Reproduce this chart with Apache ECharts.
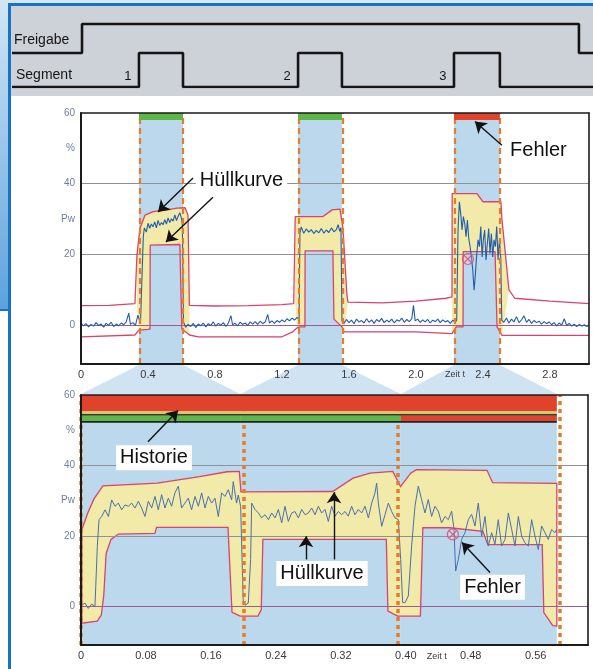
<!DOCTYPE html>
<html><head><meta charset="utf-8">
<script src="https://cdn.jsdelivr.net/npm/echarts@6/dist/echarts.min.js"></script>
<style>html,body{margin:0;padding:0;background:#fff}#c{width:593px;height:669px}</style>
</head><body><div id="c"></div>
<script>
// ---------------- DATA ----------------
// segment windows (overview chart time axis, 0..3.03)
const segTop = [[0.346, 0.609], [1.296, 1.558], [2.227, 2.501]];
// same segments on the zoomed chart time axis (0..0.62)
const segBottom = [[0, 0.196], [0.196, 0.394], [0.394, 0.586]];
const segStatus = ['ok', 'ok', 'fail'];
const segNames = ['1', '2', '3'];
const freigabeOn = 0.006, freigabeOff = 2.973;

const topTicks = [0, 0.4, 0.8, 1.2, 1.6, 2.0, 2.4, 2.8];
const bottomTicks = [0, 0.08, 0.16, 0.24, 0.32, 0.40, 0.48, 0.56];
const yTicks = [0, 20, 30, 40, 50, 60];
const yTickText = {60: '60', 50: '%', 40: '40', 30: 'Pw', 20: '20', 0: '0'};

// yellow envelope fill ranges in the overview chart
const topBandRanges = [[0.333, 0.65], [1.278, 1.595], [2.215, 2.556]];

const topUpper = [[0,5.5],[0.17,5.6],[0.322,6.1],[0.333,6.2],[0.334,19.8],[0.352,27.4],[0.382,31.1],[0.43,32.1],[0.513,32.6],[0.573,33.1],[0.621,33.2],[0.639,31.1],[0.647,5.6],[0.8,5.4],[1.0,5.5],[1.2,5.8],[1.27,6.1],[1.278,6.5],[1.279,30.7],[1.445,30.7],[1.499,32.6],[1.546,32.8],[1.564,27.4],[1.588,8.4],[1.594,6.5],[1.8,6.3],[2.0,6.8],[2.18,7.6],[2.215,8.0],[2.216,37.2],[2.364,37.2],[2.4,34.9],[2.507,34.9],[2.513,30.0],[2.53,22.0],[2.555,10.0],[2.59,7.6],[2.8,6.8],[3.033,6.1]];

const topLower = [[0,-3.3],[0.322,-2.8],[0.345,-1.4],[0.4,-1.2],[0.412,-1.1],[0.413,22.6],[0.59,22.8],[0.6,22.8],[0.602,-1.1],[0.648,-2.8],[0.7,-3.3],[1.2,-3.3],[1.26,-2.0],[1.29,-0.8],[1.307,-0.5],[1.337,-0.5],[1.338,21.0],[1.504,21.0],[1.51,1.7],[1.558,-0.5],[1.57,-1.9],[2.0,-1.9],[2.215,-2.4],[2.24,-0.5],[2.281,-0.5],[2.282,20.8],[2.472,20.8],[2.484,-0.5],[2.513,-2.9],[3.033,-2.9]];

const topSignal = [
[0.000,0.6],[0.015,-0.2],[0.030,0.4],[0.045,-0.5],[0.060,0.2],[0.075,-0.3],[0.090,0.7],[0.105,-0.1],[0.120,0.3],[0.135,-0.6],[0.150,0.5],[0.165,0.0],[0.180,0.8],[0.195,-0.4],[0.210,0.3],[0.225,-0.2],[0.240,0.6],[0.255,0.1],[0.270,0.9],[0.285,3.4],[0.295,0.2],[0.310,0.7],[0.325,-0.1],[0.340,2.8],[0.355,0.4],[0.366,0.8],
[0.372,25.0],[0.378,27.5],[0.39,26.3],[0.40,28.8],[0.41,27.4],[0.42,28.6],[0.43,27.8],[0.44,29.2],[0.45,27.5],[0.46,29.6],[0.47,28.2],[0.48,29.0],[0.49,28.4],[0.50,29.8],[0.51,28.6],[0.52,30.3],[0.53,29.0],[0.54,30.1],[0.55,29.4],[0.56,31.2],[0.57,29.6],[0.58,30.8],[0.59,31.8],[0.60,30.2],[0.605,28.5],[0.612,0.8],
[0.625,-0.6],[0.640,0.2],[0.655,-0.4],[0.670,0.5],[0.685,-0.7],[0.700,0.3],[0.715,-0.2],[0.730,0.6],[0.745,-0.5],[0.760,0.4],[0.775,-0.1],[0.790,0.9],[0.805,-0.3],[0.820,0.5],[0.835,0.0],[0.850,0.7],[0.865,-0.4],[0.880,0.6],[0.895,2.7],[0.905,0.1],[0.920,0.5],[0.935,-0.2],[0.950,0.8],[0.965,0.2],[0.980,0.6],[0.995,-0.1],[1.010,0.9],[1.025,0.3],[1.040,1.0],[1.055,0.2],[1.070,1.1],[1.085,0.4],[1.100,0.9],[1.115,3.0],[1.125,0.6],[1.140,1.2],[1.155,0.5],[1.170,1.3],[1.185,0.8],[1.200,1.5],[1.215,0.9],[1.230,1.8],[1.245,1.2],[1.260,2.0],[1.275,1.4],[1.290,2.2],[1.302,1.6],
[1.307,26.0],[1.315,27.8],[1.33,26.0],[1.345,27.2],[1.36,26.3],[1.375,27.0],[1.39,25.9],[1.405,26.8],[1.42,26.1],[1.435,27.3],[1.45,26.0],[1.465,26.9],[1.48,26.2],[1.495,27.5],[1.51,26.4],[1.525,27.0],[1.535,28.4],[1.545,26.5],[1.552,27.6],[1.558,1.2],
[1.570,0.5],[1.585,1.6],[1.600,0.7],[1.615,1.4],[1.630,0.4],[1.645,1.7],[1.660,0.9],[1.675,1.3],[1.690,0.6],[1.705,1.8],[1.720,0.8],[1.735,1.5],[1.750,0.5],[1.765,1.6],[1.780,1.0],[1.795,1.9],[1.810,0.7],[1.825,1.4],[1.840,0.9],[1.855,1.7],[1.870,0.6],[1.885,1.5],[1.900,1.1],[1.915,2.0],[1.930,0.8],[1.945,1.6],[1.960,1.0],[1.975,1.8],[1.985,5.6],[1.995,1.2],[2.010,1.7],[2.025,0.8],[2.040,1.5],[2.055,0.9],[2.070,1.6],[2.085,0.6],[2.100,1.4],[2.115,1.0],[2.130,1.7],[2.145,0.7],[2.160,1.5],[2.175,0.9],[2.190,1.3],[2.205,0.5],[2.220,1.4],[2.235,0.8],[2.243,1.4],
[2.251,26.9],[2.259,34.9],[2.267,31.6],[2.275,26.9],[2.283,30.7],[2.291,28.8],[2.299,25.0],[2.307,29.7],[2.315,24.5],[2.323,22.2],[2.331,19.3],[2.339,15.6],[2.347,9.9],[2.355,14.6],[2.363,20.3],[2.371,24.1],[2.379,22.2],[2.387,27.9],[2.395,19.3],[2.402,24.1],[2.410,26.9],[2.418,18.4],[2.426,23.1],[2.434,27.3],[2.442,20.3],[2.450,25.9],[2.458,19.3],[2.466,24.1],[2.474,22.2],[2.482,27.9],[2.490,18.4],[2.498,24.1],[2.506,19.3],
[2.512,1.4],[2.525,0.8],[2.540,2.0],[2.555,0.6],[2.570,1.7],[2.585,0.9],[2.600,2.4],[2.615,0.7],[2.630,1.5],[2.645,2.6],[2.660,0.8],[2.675,1.6],[2.690,0.5],[2.705,1.3],[2.720,0.7],[2.735,1.1],[2.750,0.3],[2.765,1.0],[2.780,0.4],[2.795,0.9],[2.810,0.1],[2.825,0.7],[2.840,-0.2],[2.855,0.6],[2.870,0.0],[2.885,1.8],[2.900,-0.1],[2.915,0.5],[2.930,-0.3],[2.945,0.3],[2.960,-0.4],[2.975,0.2],[2.990,-0.3],[3.005,0.1],[3.020,-0.4],[3.033,0.0]];

const bottomUpper = [[0.001,21.8],[0.0086,26.6],[0.016,30.5],[0.027,34.2],[0.094,35.0],[0.146,36.8],[0.18,38.2],[0.195,38.3],[0.197,32.5],[0.31,32.6],[0.335,36.4],[0.356,37.8],[0.384,38.3],[0.3935,34.0],[0.406,37.8],[0.413,38.8],[0.5,38.6],[0.507,35.1],[0.586,34.9]];

const bottomLower = [[0.001,-4.8],[0.02,-4.2],[0.025,-2.5],[0.028,3.0],[0.031,15.0],[0.037,19.0],[0.046,20.5],[0.091,20.7],[0.093,22.4],[0.181,22.4],[0.186,-1.7],[0.196,-2.8],[0.218,-2.8],[0.222,-1.0],[0.224,19.0],[0.376,19.0],[0.378,-1.4],[0.39,-2.8],[0.418,-2.8],[0.421,22.3],[0.454,22.3],[0.495,21.3],[0.501,17.5],[0.568,17.5],[0.570,-1.8],[0.581,-5.5],[0.586,-5.6]];

const bottomSignal = [
[0.001,0.3],[0.0049,0.9],[0.009,-0.6],[0.0131,0.6],[0.0172,0.0],[0.0201,17.0],[0.0222,24.6],[0.0255,25.5],[0.0296,27.4],[0.0337,25.5],[0.0378,30.2],[0.0419,28.4],[0.046,29.3],[0.0501,27.4],[0.0542,28.8],[0.0583,28.4],[0.0624,29.3],[0.0665,27.9],[0.0706,29.8],[0.0747,27.9],[0.0788,25.5],[0.0829,29.8],[0.087,27.9],[0.0911,31.2],[0.0952,27.4],[0.0993,31.7],[0.1034,27.9],[0.1075,30.7],[0.1116,28.4],[0.1157,32.2],[0.1198,34.1],[0.1239,27.9],[0.128,29.3],[0.1321,30.7],[0.1362,27.4],[0.1404,31.2],[0.1445,28.4],[0.1486,32.2],[0.1527,27.9],[0.1568,31.2],[0.1609,29.3],[0.165,30.7],[0.1691,25.5],[0.1732,32.2],[0.1773,31.2],[0.1814,33.1],[0.1855,30.2],[0.1875,35.4],[0.1916,29.3],[0.1937,31.6],[0.1966,28.4],[0.1998,1.4],[0.202,0.3],[0.206,0.9],[0.2089,13.3],[0.2102,29.3],
[0.2143,27.5],[0.2184,26.5],[0.2225,25.1],[0.2266,26.0],[0.2308,24.6],[0.2349,26.5],[0.239,25.1],[0.2431,27.5],[0.2472,23.7],[0.2512,28.4],[0.2553,24.1],[0.2594,26.5],[0.2635,26.9],[0.2677,25.1],[0.2718,27.5],[0.2759,26.0],[0.28,26.5],[0.2841,27.9],[0.2882,26.0],[0.2923,28.4],[0.2964,26.5],[0.3005,27.5],[0.3046,24.1],[0.3087,28.4],[0.3128,25.6],[0.3169,26.9],[0.321,26.0],[0.3251,26.9],[0.3292,25.6],[0.3333,28.4],[0.3374,26.0],[0.3415,27.5],[0.3456,26.5],[0.3498,28.4],[0.3539,25.1],[0.358,29.3],[0.3621,32.2],[0.3641,35.0],[0.3662,29.3],[0.3703,22.7],[0.3744,26.0],[0.3785,29.3],[0.3826,26.9],[0.3867,25.1],[0.3908,24.6],[0.3937,13.3],[0.3961,1.1],
[0.399,1.0],[0.4031,2.9],[0.4072,17.1],[0.4113,28.4],[0.4154,34.1],[0.4195,30.3],[0.4236,26.5],[0.4277,30.3],[0.4318,25.5],[0.4359,28.4],[0.44,27.0],[0.4441,23.7],[0.4483,25.5],[0.4524,24.6],[0.4565,27.0],[0.4594,21.8],[0.4614,10.0],[0.4647,13.3],[0.4688,19.0],[0.4729,20.9],[0.477,24.6],[0.4811,26.1],[0.4852,22.8],[0.4893,29.3],[0.4934,19.9],[0.4975,25.5],[0.5016,17.1],[0.5057,20.9],[0.5098,17.6],[0.5139,24.6],[0.518,17.1],[0.5222,19.0],[0.5263,26.5],[0.5304,21.8],[0.5345,17.1],[0.5386,25.5],[0.5427,19.9],[0.5468,18.0],[0.5509,17.1],[0.555,24.6],[0.5591,19.9],[0.5632,16.1],[0.5673,22.8],[0.5714,20.9],[0.5755,19.0],[0.5796,21.8],[0.5837,20.9],[0.5857,21.8]];

// error marker positions
const topError = [2.31, 18.7];
const bottomError = [0.458, 20.4];

// annotations: label centre and arrows (from -> to), in data units
const topNotes = [
  {text: 'Hüllkurve', at: [0.958, 41.0], arrows: [[[0.669, 41.6], [0.46, 32.0]], [[0.788, 36.2], [0.507, 23.5]]]},
  {text: 'Fehler', at: [2.731, 49.5], arrows: [[[2.513, 50.9], [2.352, 57.6]]]}
];
const bottomNotes = [
  {text: 'Historie', at: [0.0899, 42.2], arrows: [[[0.0825, 46.7], [0.1195, 55.6]]]},
  {text: 'Hüllkurve', at: [0.2968, 9.3], arrows: [[[0.2771, 13.3], [0.2771, 19.9]], [[0.3116, 13.3], [0.3116, 32.4]]]},
  {text: 'Fehler', at: [0.5068, 5.4], arrows: [[[0.5037, 9.6], [0.4692, 18.1]]]}
];

// ---------------- STYLE ----------------
const C = {seg:'#bcd8ec', yellow:'#f2eaa8', pink:'#d8436f', sig:'#1f5db3', sig2:'#4870ae',
  orange:'#e57c2b', green:'#5cb648', red:'#e0422c', grid:'#909096', zero:'#a15a8c',
  ylab:'#6f7f9c', xlab:'#3a3a3a', frame:'#1b1b1b'};
const FONT = 'Liberation Sans, Arial, sans-serif';

const chart = echarts.init(document.getElementById('c'));

function bandRender(upper, lower, ranges, stroke) {
  return function (params, api) {
    const r = ranges[params.dataIndex];
    const up = upper.filter(p => p[0] >= r[0] && p[0] <= r[1]);
    const lo = lower.filter(p => p[0] >= r[0] && p[0] <= r[1]).reverse();
    const pts = up.concat(lo).map(p => api.coord(p));
    return {type: 'polygon', shape: {points: pts},
      style: {fill: C.yellow, stroke: stroke || null, lineWidth: stroke ? 1.3 : 0}};
  };
}
function noteSeries(notes, xi, yi) {
  const lines = [], points = [];
  notes.forEach(n => {
    n.arrows.forEach(a => lines.push([{coord: a[0]}, {coord: a[1]}]));
    points.push({name: n.text, coord: n.at});
  });
  return {type: 'line', xAxisIndex: xi, yAxisIndex: yi, data: [], silent: true,
    markLine: {z: 9, silent: true, symbol: ['none', 'arrow'], symbolSize: 11, label: {show: false},
      lineStyle: {color: '#111', width: 1.4, type: 'solid'}, data: lines},
    markPoint: {z: 9, silent: true, symbol: 'rect', symbolSize: 1, itemStyle: {color: 'rgba(0,0,0,0)'},
      label: {show: true, position: 'inside', formatter: '{b}', color: '#111', fontSize: 20, fontFamily: FONT,
        backgroundColor: '#fff', padding: [3, 4, 2, 4]}, data: points}};
}
function errorSeries(pt, xi, yi) {
  return [
    {type: 'scatter', xAxisIndex: xi, yAxisIndex: yi, z: 8, silent: true, data: [pt], symbol: 'circle', symbolSize: 11,
      itemStyle: {color: 'rgba(255,200,200,0.3)', borderColor: C.pink, borderWidth: 1.2}},
    {type: 'scatter', xAxisIndex: xi, yAxisIndex: yi, z: 8, silent: true, data: [pt],
      symbol: 'path://M0,0L10,10M10,0L0,10', symbolSize: 7,
      itemStyle: {color: 'rgba(0,0,0,0)', borderColor: C.pink, borderWidth: 1.2}}
  ];
}
function gridLines(xi, yi) {
  return {type: 'line', xAxisIndex: xi, yAxisIndex: yi, data: [], silent: true,
    markLine: {z: 3, silent: true, symbol: 'none', label: {show: false},
      data: [{yAxis: 40, lineStyle: {color: C.grid, width: 1, type: 'solid'}},
             {yAxis: 20, lineStyle: {color: C.grid, width: 1, type: 'solid'}},
             {yAxis: 0, lineStyle: {color: C.zero, width: 1, type: 'solid'}}]}};
}

// timing diagram square waves built from the segment windows
const tMin = -0.412, tMax = 3.057;
const freigabeWave = [[tMin, 1], [freigabeOn, 1], [freigabeOn, 1.853], [freigabeOff, 1.853], [freigabeOff, 1], [tMax, 1]];
const segmentWave = [[tMin, 0]];
segTop.forEach(s => { segmentWave.push([s[0], 0], [s[0], 1], [s[1], 1], [s[1], 0]); });
segmentWave.push([tMax, 0]);

const frameAxisX = (gi, min, max) => ({gridIndex: gi, type: 'value', min, max, position: 'top', z: 10,
  axisLine: {show: true, onZero: false, lineStyle: {color: C.frame, width: 1.6}}, axisTick: {show: false}, axisLabel: {show: false}, splitLine: {show: false}});
const frameAxisY = (gi) => ({gridIndex: gi, type: 'value', min: -11, max: 60, position: 'right', z: 10,
  axisLine: {show: true, onZero: false, lineStyle: {color: C.frame, width: 1.6}}, axisTick: {show: false}, axisLabel: {show: false}, splitLine: {show: false}});
const mainX = (gi, min, max, ticks, dec) => ({gridIndex: gi, type: 'value', min, max, position: 'bottom', z: 10,
  axisLine: {show: true, onZero: false, lineStyle: {color: C.frame, width: 2}}, axisTick: {show: false}, splitLine: {show: false},
  axisLabel: {customValues: ticks, formatter: v => v === 0 ? '0' : v.toFixed(dec), color: C.xlab, fontSize: 11, fontFamily: FONT, margin: 5}});
const mainY = (gi) => ({gridIndex: gi, type: 'value', min: -11, max: 60, position: 'left', z: 10,
  axisLine: {show: true, onZero: false, lineStyle: {color: C.frame, width: 2}}, axisTick: {show: false}, splitLine: {show: false},
  axisLabel: {customValues: yTicks, formatter: v => yTickText[v] !== undefined ? yTickText[v] : '', color: C.ylab, fontSize: 10, fontFamily: FONT, margin: 6}});

const topMax = 3.033, botMax = 0.6244;

const option = {
  animation: false,
  backgroundColor: '#ffffff',
  grid: [
    {left: 12, right: 0, top: 19, bottom: 582},
    {left: 81, right: 4, top: 113, bottom: 305, backgroundColor: '#fff', show: true, borderWidth: 0},
    {left: 81, right: 5, top: 395, bottom: 24, backgroundColor: '#fff', show: true, borderWidth: 0}
  ],
  xAxis: [
    {gridIndex: 0, type: 'value', min: tMin, max: tMax, show: false},
    mainX(1, 0, topMax, topTicks, 1),
    frameAxisX(1, 0, topMax),
    mainX(2, 0, botMax, bottomTicks, 2),
    frameAxisX(2, 0, botMax)
  ],
  yAxis: [
    {gridIndex: 0, type: 'value', min: 0, max: 2, show: false},
    mainY(1), frameAxisY(1), mainY(2), frameAxisY(2)
  ],
  series: [
    // timing diagram
    {type: 'line', xAxisIndex: 0, yAxisIndex: 0, data: freigabeWave, showSymbol: false, silent: true,
      lineStyle: {color: '#151515', width: 2.6}, z: 5},
    {type: 'line', xAxisIndex: 0, yAxisIndex: 0, data: segmentWave, showSymbol: false, silent: true,
      lineStyle: {color: '#151515', width: 2.6}, z: 5},

    // ---------- overview chart ----------
    {type: 'line', xAxisIndex: 1, yAxisIndex: 1, data: [], silent: true,
      markArea: {z: 1, silent: true, itemStyle: {color: C.seg}, data: segTop.map(s => [{xAxis: s[0]}, {xAxis: s[1]}])}},
    {type: 'custom', xAxisIndex: 1, yAxisIndex: 1, z: 2, silent: true,
      data: topBandRanges.map(r => [r[0], 0]), renderItem: bandRender(topUpper, topLower, topBandRanges)},
    gridLines(1, 1),
    {type: 'line', xAxisIndex: 1, yAxisIndex: 1, z: 4, data: topUpper, showSymbol: false, silent: true,
      lineStyle: {color: C.pink, width: 1.3}},
    {type: 'line', xAxisIndex: 1, yAxisIndex: 1, z: 4, data: topLower, showSymbol: false, silent: true,
      lineStyle: {color: C.pink, width: 1.3}},
    {type: 'line', xAxisIndex: 1, yAxisIndex: 1, z: 5, data: topSignal, showSymbol: false, silent: true,
      lineStyle: {color: C.sig, width: 1.1}},
    {type: 'line', xAxisIndex: 1, yAxisIndex: 1, data: [], silent: true,
      markLine: {z: 6, silent: true, symbol: 'none', label: {show: false},
        lineStyle: {color: C.orange, width: 2.2, type: [6, 4]},
        data: segTop.flat().map(v => ({xAxis: v}))},
      markArea: {z: 7, silent: true,
        data: segTop.map((s, i) => [{xAxis: s[0], yAxis: 58, itemStyle: {color: segStatus[i] === 'ok' ? C.green : C.red}}, {xAxis: s[1], yAxis: 60}])}},
    ...errorSeries(topError, 1, 1),
    noteSeries(topNotes, 1, 1),

    // ---------- zoomed chart ----------
    {type: 'line', xAxisIndex: 3, yAxisIndex: 3, data: [], silent: true,
      markArea: {z: 1, silent: true, itemStyle: {color: C.seg}, data: segBottom.map(s => [{xAxis: s[0]}, {xAxis: s[1]}])}},
    {type: 'custom', xAxisIndex: 3, yAxisIndex: 3, z: 2, silent: true,
      data: [[0, 0]], renderItem: bandRender(bottomUpper, bottomLower, [[0, 0.59]], C.pink)},
    gridLines(3, 3),
    {type: 'line', xAxisIndex: 3, yAxisIndex: 3, z: 5, data: bottomSignal, showSymbol: false, silent: true,
      lineStyle: {color: C.sig2, width: 1}},
    {type: 'line', xAxisIndex: 3, yAxisIndex: 3, data: [], silent: true,
      markLine: {z: 6, silent: true, symbol: 'none', label: {show: false},
        lineStyle: {color: C.orange, width: 3.5, type: [4, 4]},
        data: [segBottom[0][0]].concat(segBottom.map(s => s[1])).map(v => ({xAxis: v}))},
      markArea: {z: 7, silent: true, data: [
        [{xAxis: segBottom[0][0], yAxis: 55.4, itemStyle: {color: C.red}}, {xAxis: segBottom[2][1], yAxis: 60}],
        [{xAxis: segBottom[0][0], yAxis: 54.6, itemStyle: {color: '#d9c868'}}, {xAxis: segBottom[2][1], yAxis: 55.4}],
        [{xAxis: segBottom[0][0], yAxis: 54.1, itemStyle: {color: '#3a3a2a'}}, {xAxis: segBottom[2][1], yAxis: 54.6}],
        ...segBottom.map((s, i) => [{xAxis: s[0], yAxis: 52.6, itemStyle: {color: segStatus[i] === 'ok' ? C.green : C.red}}, {xAxis: s[1], yAxis: 54.1}]),
        [{xAxis: segBottom[0][0], yAxis: 52.1, itemStyle: {color: '#222'}}, {xAxis: segBottom[2][1], yAxis: 52.6}]
      ]}},
    ...errorSeries(bottomError, 3, 3),
    noteSeries(bottomNotes, 3, 3)
  ]
};
chart.setOption(option);

// ---------- decorations positioned from the axes ----------
const px = (g, p) => chart.convertToPixel({gridIndex: g}, p);
const els = [
  {type: 'rect', z: 0, shape: {x: 0, y: 0, width: 593, height: 3}, style: {fill: '#d6e6f4'}},
  {type: 'rect', z: 0, shape: {x: 0, y: 0, width: 8, height: 310},
    style: {fill: new echarts.graphic.LinearGradient(0, 0, 0, 1, [{offset: 0, color: '#d3e6f6'}, {offset: 1, color: '#5aa2dd'}])}},
  {type: 'rect', z: 0, shape: {x: 11, y: 6, width: 582, height: 90}, style: {fill: '#cdd1d8'}},
  {type: 'rect', z: 1, shape: {x: 8, y: 3, width: 585, height: 3}, style: {fill: '#1673c5'}},
  {type: 'rect', z: 1, shape: {x: 8, y: 3, width: 3, height: 666}, style: {fill: '#1673c5'}},
  {type: 'rect', z: 1, shape: {x: 0, y: 309, width: 10, height: 2}, style: {fill: '#1673c5'}},
  {type: 'text', z: 20, x: 14, y: 40, style: {text: 'Freigabe', fill: '#151515', font: '14px ' + FONT, verticalAlign: 'middle'}},
  {type: 'text', z: 20, x: 16, y: 75, style: {text: 'Segment', fill: '#151515', font: '14px ' + FONT, verticalAlign: 'middle'}}
];
segTop.forEach((s, i) => {
  const p = px(0, [s[0], 0]);
  els.push({type: 'text', z: 20, x: p[0] - 11, y: 76, style: {text: segNames[i], fill: '#151515', font: '13px ' + FONT, align: 'center', verticalAlign: 'middle'}});
  const a = px(1, [s[0], -11]), b = px(1, [s[1], -11]);
  const c = px(2, [segBottom[i][0], 60]), d = px(2, [segBottom[i][1], 60]);
  els.push({type: 'polygon', z: 0, shape: {points: [[a[0], a[1] + 1], [b[0], b[1] + 1], [d[0], d[1] - 1], [c[0], c[1] - 1]]},
    style: {fill: 'rgba(176,209,233,0.6)'}});
});
const zt = px(1, [2.233, -11]);
els.push({type: 'text', z: 20, x: zt[0], y: zt[1] + 11, style: {text: 'Zeit t', fill: C.xlab, font: '9px ' + FONT, align: 'center', verticalAlign: 'middle'}});
const zb = px(2, [0.438, -11]);
els.push({type: 'text', z: 20, x: zb[0], y: zb[1] + 12, style: {text: 'Zeit t', fill: C.xlab, font: '9px ' + FONT, align: 'center', verticalAlign: 'middle'}});
chart.setOption({graphic: {elements: els}});
</script></body></html>
